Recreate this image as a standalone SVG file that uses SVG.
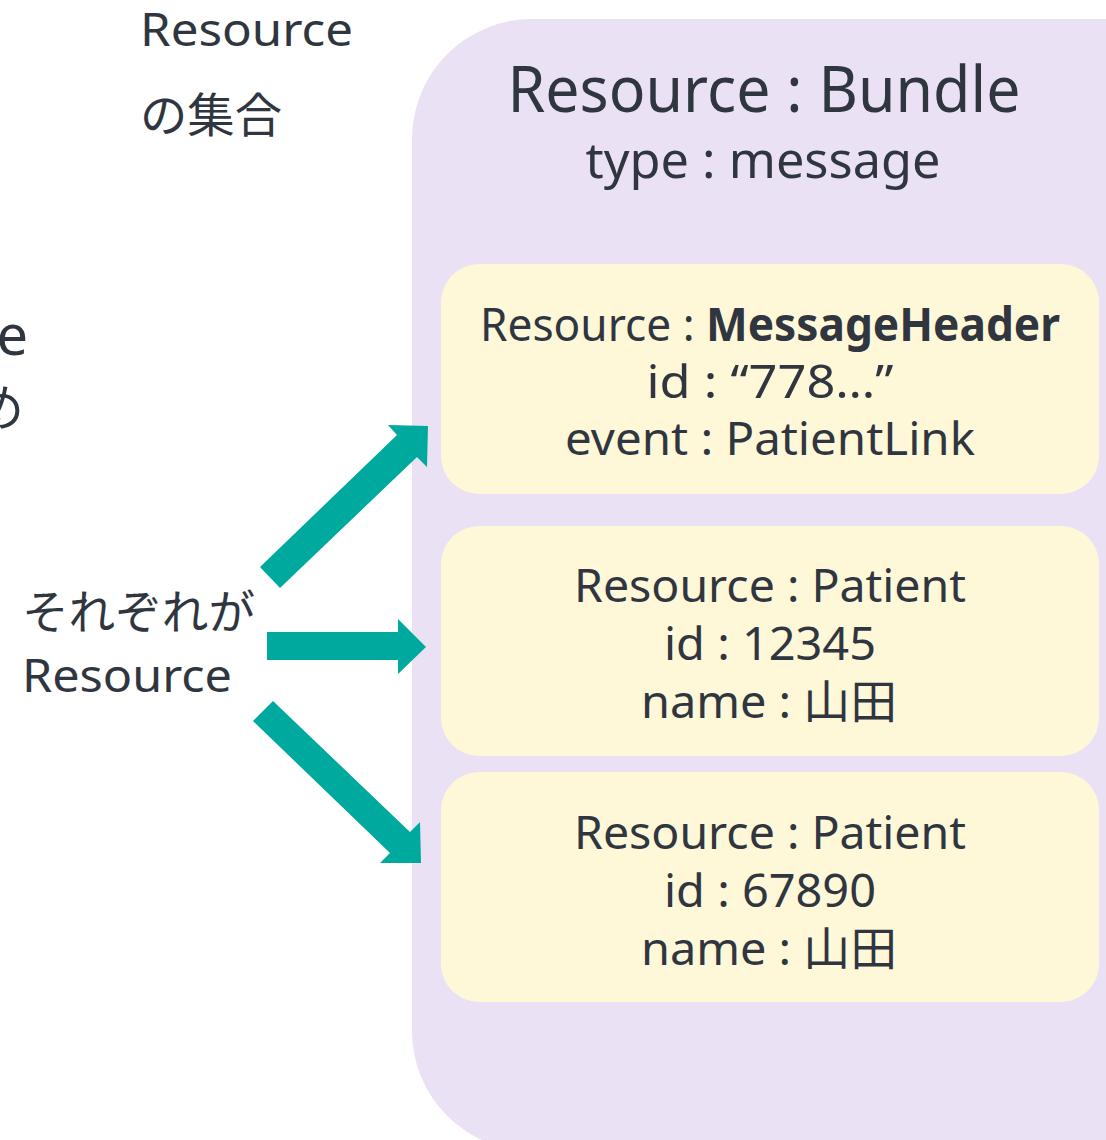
<svg xmlns="http://www.w3.org/2000/svg" width="1106" height="1140" viewBox="0 0 1106 1140">
  <style>
    .bundle { fill: #EAE1F4; }
    .res { fill: #FFF8D8; }
    .t { fill: #2F3640; font-family: "Noto Sans", "Open Sans", "Noto Sans CJK JP", sans-serif; text-anchor: middle; }
    .lbl { fill: #2F3640; font-family: "Noto Sans", "Noto Sans CJK JP", sans-serif; }
    .arrow { fill: #00A99D; }
    .b { font-weight: bold; }
  </style>

  <!-- side labels -->
  <g id="label-collection">
    <text class="lbl" x="140" y="46" font-size="46" textLength="213" lengthAdjust="spacingAndGlyphs">Resource</text>
    <text class="lbl" x="140" y="132" font-size="47" textLength="142" lengthAdjust="spacingAndGlyphs">の集合</text>
  </g>
  <g id="label-partial">
    <text class="lbl" x="28" y="355" font-size="56" text-anchor="end">e</text>
    <text class="lbl" x="24" y="426" font-size="50" text-anchor="end">め</text>
  </g>
  <g id="label-each">
    <text class="lbl" x="22" y="629" font-size="47" textLength="233" lengthAdjust="spacingAndGlyphs">それぞれが</text>
    <text class="lbl" x="22" y="692" font-size="46" textLength="210" lengthAdjust="spacingAndGlyphs">Resource</text>
  </g>

  <!-- Bundle container -->
  <g id="bundle">
    <rect class="bundle" x="412" y="19" width="1102" height="1132" rx="120" ry="120"/>
    <text class="t" x="764" y="112" font-size="63" textLength="513" lengthAdjust="spacingAndGlyphs">Resource : Bundle</text>
    <text class="t" x="763" y="178" font-size="50" textLength="355" lengthAdjust="spacingAndGlyphs">type : message</text>
  </g>

  <!-- MessageHeader entry -->
  <g id="message-header">
    <rect class="res" x="441" y="264" width="658" height="230" rx="38" ry="38"/>
    <text class="t" x="770" y="341" font-size="46" textLength="580" lengthAdjust="spacingAndGlyphs">Resource : <tspan class="b">MessageHeader</tspan></text>
    <text class="t" x="770" y="398" font-size="46" textLength="247" lengthAdjust="spacingAndGlyphs">id : “778…”</text>
    <text class="t" x="770" y="455" font-size="46" textLength="410" lengthAdjust="spacingAndGlyphs">event : PatientLink</text>
  </g>

  <!-- Patient entry 1 -->
  <g id="patient-12345">
    <rect class="res" x="441" y="526" width="658" height="230" rx="38" ry="38"/>
    <text class="t" x="770" y="602" font-size="46" textLength="392" lengthAdjust="spacingAndGlyphs">Resource : Patient</text>
    <text class="t" x="770" y="660" font-size="46" textLength="212" lengthAdjust="spacingAndGlyphs">id : 12345</text>
    <text class="t" x="769" y="718" font-size="46" textLength="256" lengthAdjust="spacingAndGlyphs">name : 山田</text>
  </g>

  <!-- Patient entry 2 -->
  <g id="patient-67890">
    <rect class="res" x="441" y="772" width="658" height="230" rx="38" ry="38"/>
    <text class="t" x="770" y="849" font-size="46" textLength="392" lengthAdjust="spacingAndGlyphs">Resource : Patient</text>
    <text class="t" x="770" y="907" font-size="46" textLength="212" lengthAdjust="spacingAndGlyphs">id : 67890</text>
    <text class="t" x="769" y="965" font-size="46" textLength="256" lengthAdjust="spacingAndGlyphs">name : 山田</text>
  </g>

  <!-- block arrows from the label to each entry -->
  <g id="connectors">
    <polygon class="arrow" points="260,567 397,435 388,425 428,426 427,467 417,457 280,588"/>
    <polygon class="arrow" points="267,632 398,632 398,619 426,647 398,674 398,660 267,660"/>
    <polygon class="arrow" points="273,701 410,832 420,822 421,863 380,863 390,853 253,721"/>
  </g>
</svg>
